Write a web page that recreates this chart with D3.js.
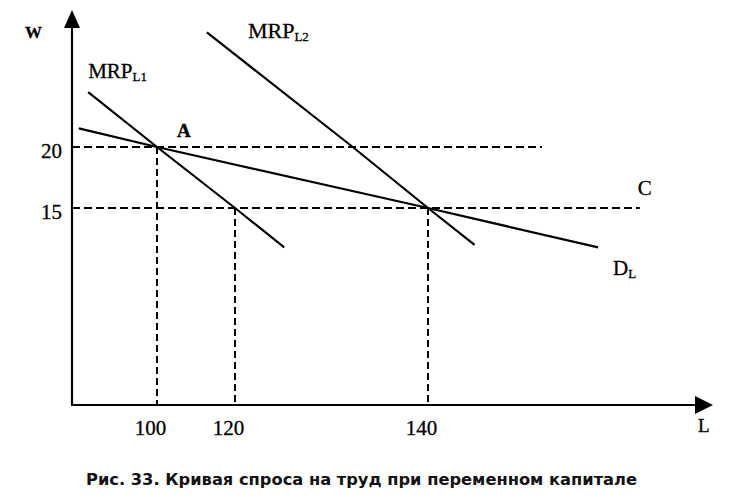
<!DOCTYPE html>
<html><head><meta charset="utf-8">
<script src="https://cdn.jsdelivr.net/npm/d3@7"></script>
<style>body{margin:0;background:#fff}</style>
</head><body>
<svg id="c" width="756" height="502" xmlns="http://www.w3.org/2000/svg"></svg>
<script>
// ---- data ----
const xTicks = [100, 120, 140];
const yTicks = [15, 20];
const xKnots = [80, 100, 120, 140, 170];   // schematic (non-uniform) L axis
const yKnots = [0, 15, 20, 31];
const mrpL1 = [[83.8, 24.4], [100, 20], [120, 15], [125.1, 12.0]];
const mrpL2 = [[112.8, 29.2], [132.2, 20], [140, 15], [144.9, 12.2]];
const demandL = [[81.6, 21.5], [100, 20], [140, 15], [157.9, 12.0]];
const wageLines = [{w: 20, to: 152}, {w: 15, to: 162.3}];
const dropLines = [{l: 100, w: 20}, {l: 120, w: 15}, {l: 140, w: 15}];
const caption = "Рис. 33. Кривая спроса на труд при переменном капитале";

// ---- drawing ----
const svg = d3.select('#c');
const x = d3.scaleLinear().domain(xKnots).range([72, 157, 235, 428, 713]);
const y = d3.scaleLinear().domain(yKnots).range([405, 208, 147, 10]);
const L0 = xKnots[0], Lmax = xKnots[xKnots.length - 1];
const W0 = yKnots[0], Wmax = yKnots[yKnots.length - 1];
const serif = "'Liberation Serif','Times New Roman',serif";

// dashed guide lines
svg.append('g').selectAll('line').data(wageLines).join('line')
  .attr('x1', x(L0)).attr('x2', d => x(d.to))
  .attr('y1', d => y(d.w)).attr('y2', d => y(d.w))
  .attr('stroke', '#000').attr('stroke-width', 2).attr('stroke-dasharray', '8,4');
svg.append('g').selectAll('line').data(dropLines).join('line')
  .attr('x1', d => x(d.l)).attr('x2', d => x(d.l))
  .attr('y1', d => y(d.w)).attr('y2', y(W0))
  .attr('stroke', '#000').attr('stroke-width', 2).attr('stroke-dasharray', '7,4');

// curves
const line = d3.line().x(d => x(d[0])).y(d => y(d[1]));
[mrpL1, mrpL2, demandL].forEach(s => {
  svg.append('path').datum(s).attr('d', line)
    .attr('fill', 'none').attr('stroke', '#000').attr('stroke-width', 2.2)
    .attr('stroke-linejoin', 'round');
});

// axes with arrows
const ax = svg.append('g');
ax.append('line').attr('x1', x(L0)).attr('y1', y(W0)).attr('x2', x(L0)).attr('y2', y(Wmax) + 17)
  .attr('stroke', '#000').attr('stroke-width', 2.2);
ax.append('path').attr('d', `M${x(L0)},${y(Wmax)} L${x(L0) - 8},${y(Wmax) + 18} L${x(L0) + 8},${y(Wmax) + 18} Z`);
ax.append('line').attr('x1', x(L0) - 1).attr('y1', y(W0)).attr('x2', x(Lmax) - 18).attr('y2', y(W0))
  .attr('stroke', '#000').attr('stroke-width', 2.2);
ax.append('path').attr('d', `M${x(Lmax)},${y(W0)} L${x(Lmax) - 18},${y(W0) - 9} L${x(Lmax) - 18},${y(W0) + 9} Z`);

// tick labels through d3 axes
const gx = svg.append('g').attr('transform', `translate(0,${y(W0)})`)
  .call(d3.axisBottom(x).tickValues(xTicks).tickSize(0).tickPadding(15).tickFormat(d3.format('d')));
gx.select('.domain').remove();
gx.selectAll('text').attr('dx', -7).attr('font-family', serif).attr('font-size', 21)
  .attr('fill', '#000').attr('stroke', '#000').attr('stroke-width', 0.3);

const gy = svg.append('g').attr('transform', `translate(${x(L0)},0)`)
  .call(d3.axisLeft(y).tickValues(yTicks).tickSize(0).tickPadding(10).tickFormat(d3.format('d')));
gy.select('.domain').remove();
gy.selectAll('text').attr('dy', '0.5em').attr('font-family', serif).attr('font-size', 21)
  .attr('fill', '#000').attr('stroke', '#000').attr('stroke-width', 0.3);

// annotations
function label(px, py, main, sub, size, weight) {
  const t = svg.append('text').attr('x', px).attr('y', py)
    .attr('font-family', serif).attr('font-size', size).attr('font-weight', weight || 'normal')
    .attr('fill', '#000').attr('stroke', '#000').attr('stroke-width', 0.3).text(main);
  if (sub) t.append('tspan').attr('font-size', 13).attr('dy', 3).text(sub);
  return t;
}
label(x(mrpL1[0][0]), y(mrpL1[0][1]) - 14, 'MRP', 'L1', 21);
label(x(mrpL2[0][0]) + 41, y(mrpL2[0][1]) + 6, 'MRP', 'L2', 22);
label(x(demandL[3][0]) + 15, y(demandL[3][1]) + 28, 'D', 'L', 21);
label(x(wageLines[1].to) - 2, y(wageLines[1].w) - 13, 'C', null, 21);
label(x(100) + 20, y(20) - 10, 'A', null, 19, 'bold');
label(25, y(Wmax) + 28, 'W', null, 17, 'bold');
label(x(Lmax) - 15, y(W0) + 27, 'L', null, 19);

svg.append('text').attr('x', 86).attr('y', 485)
  .attr('font-family', "'DejaVu Sans','Verdana',sans-serif").attr('font-size', 16)
  .attr('font-weight', 'bold').attr('fill', '#111')
  .attr('textLength', 551).attr('lengthAdjust', 'spacingAndGlyphs')
  .text(caption);
</script>
</body></html>
